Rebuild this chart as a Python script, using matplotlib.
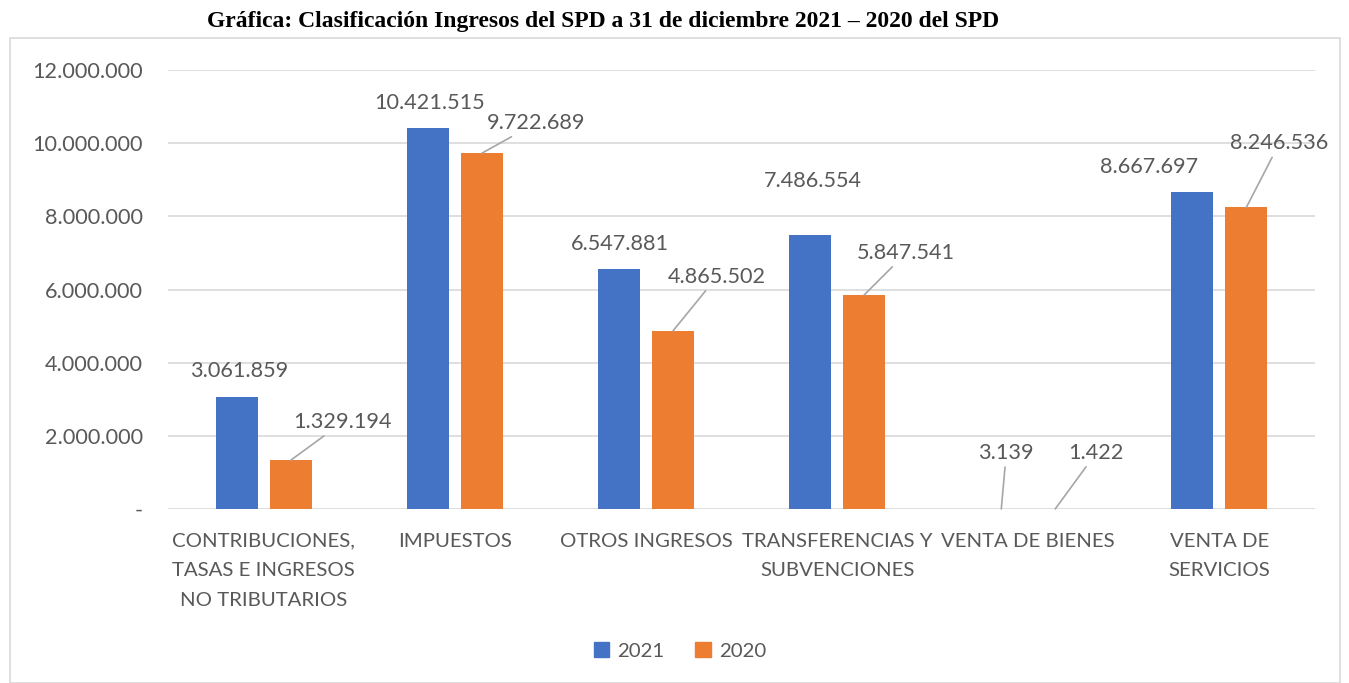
import matplotlib
matplotlib.use("Agg")
import matplotlib.pyplot as plt
from matplotlib.patches import Rectangle, Patch
from matplotlib.ticker import FuncFormatter, MultipleLocator
import numpy as np

categories = ["CONTRIBUCIONES,\nTASAS E INGRESOS\nNO TRIBUTARIOS", "IMPUESTOS", "OTROS INGRESOS",
              "TRANSFERENCIAS Y\nSUBVENCIONES", "VENTA DE BIENES", "VENTA DE\nSERVICIOS"]
values_2021 = [3061859, 10421515, 6547881, 7486554, 3139, 8667697]
values_2020 = [1329194, 9722689, 4865502, 5847541, 1422, 8246536]
series_names = ["2021", "2020"]
title = "Gráfica: Clasificación Ingresos del SPD a 31 de diciembre 2021 – 2020 del SPD"

# label offsets in pixels (dx, dy) from bar top; leader flag
off_2021 = [(3, 26), (2, 25), (1, 25), (3, 54), (5, 56), (-43, 25)]
lead_2021 = [False, False, False, False, True, False]
off_2020 = [(52, 38), (54, 30), (44, 54), (42, 42), (41, 56), (33, 64)]
lead_2020 = [True, True, True, True, True, True]

def fmt(v):
    return f"{int(round(v)):,}".replace(",", ".")

FONT = "Lato"
TXT = "#595959"
BLUE = "#4472C4"
ORANGE = "#ED7D31"
NUM_FS = 15.6
CAT_FS = 14.7

fig = plt.figure(figsize=(13.49, 6.83), dpi=100)
fig.patches.append(Rectangle((10/1349, 0), 1330/1349, (683-38)/683, transform=fig.transFigure,
                             fill=False, edgecolor="#D9D9D9", linewidth=1.2))
fig.text(603/1349, 1 - 22/683, title, ha="center", va="center", fontsize=17,
         fontweight="bold", family="Liberation Serif")

ax = fig.add_axes([168/1349, 174/683, (1315-168)/1349, (509-70)/683])
x = np.arange(len(categories))
w = 0.22
d = 0.141
b1 = ax.bar(x - d, values_2021, w, color=BLUE, zorder=3)
b2 = ax.bar(x + d, values_2020, w, color=ORANGE, zorder=3)
ax.set_xlim(-0.5, len(categories) - 0.5)
ax.set_ylim(0, 12000000)
ax.yaxis.set_major_locator(MultipleLocator(2000000))
ax.yaxis.set_major_formatter(FuncFormatter(lambda v, p: "-" if v == 0 else fmt(v)))
ax.grid(axis="y", color="#D9D9D9", linewidth=1.2, zorder=0)
for s in ax.spines.values():
    s.set_visible(False)
ax.tick_params(axis="both", length=0, labelcolor=TXT)
ax.tick_params(axis="y", pad=18, labelsize=NUM_FS)
for lab in ax.get_yticklabels():
    lab.set_family(FONT)
ax.set_xticks(x)
ax.set_xticklabels(categories, family=FONT, fontsize=CAT_FS, color=TXT, linespacing=1.9)
ax.tick_params(axis="x", pad=17)

def label(bars, vals, offs, leads):
    for b, v, o, l in zip(bars, vals, offs, leads):
        xy = (b.get_x() + b.get_width() / 2, v)
        kw = {}
        if l:
            kw["arrowprops"] = dict(arrowstyle="-", color="#A6A6A6", lw=1.2, shrinkA=1, shrinkB=0)
        ax.annotate(fmt(v), xy=xy, xytext=o, textcoords="offset pixels", ha="center", va="center",
                    fontsize=NUM_FS, color=TXT, family=FONT, **kw)

label(b1, values_2021, off_2021, lead_2021)
label(b2, values_2020, off_2020, lead_2020)

handles = [Patch(color=BLUE), Patch(color=ORANGE)]
fig.legend(handles, series_names, loc="center", bbox_to_anchor=(680/1349, 1 - 651/683), ncol=2,
           frameon=False, prop={"family": FONT, "size": CAT_FS}, labelcolor=TXT,
           handlelength=0.75, handleheight=0.75, handletextpad=0.4, columnspacing=1.5)

fig.savefig("out.png", dpi=100)
